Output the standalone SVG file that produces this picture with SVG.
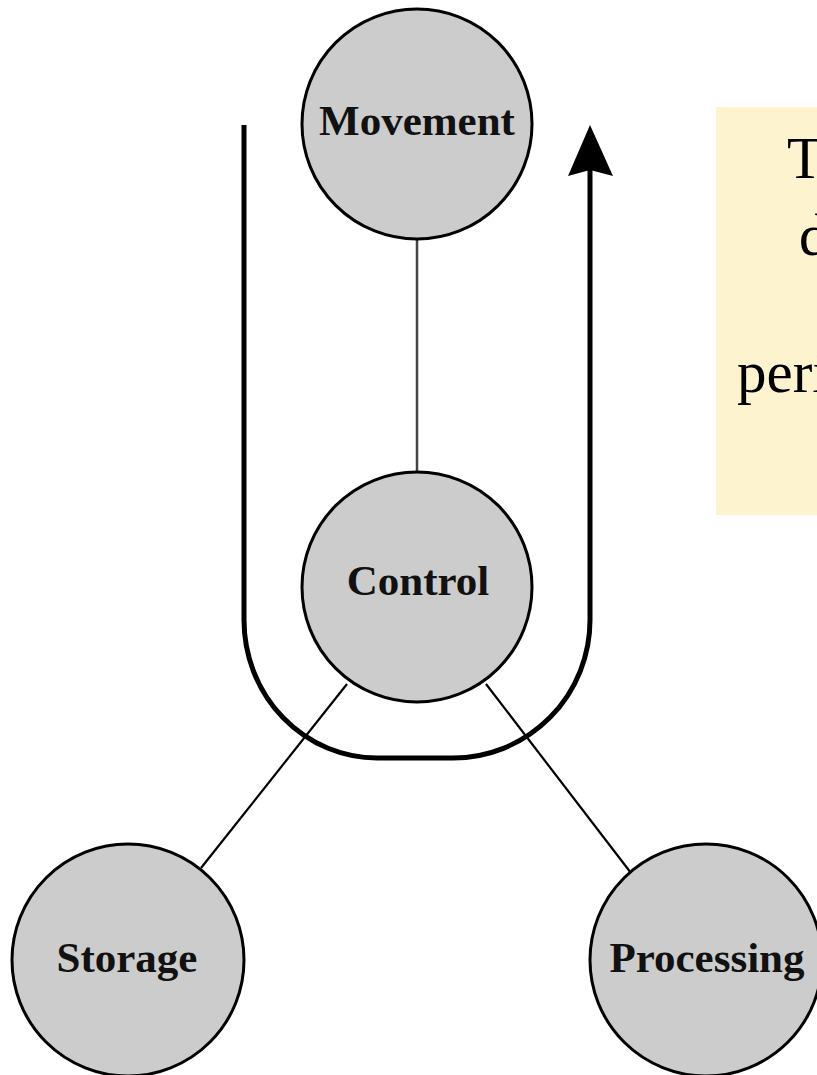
<svg xmlns="http://www.w3.org/2000/svg" width="817" height="1075" viewBox="0 0 817 1075">
<style>
.node circle{fill:#cccccc;stroke:#000;stroke-width:3}
.node text{font-family:"Liberation Serif",serif;font-weight:bold;font-size:43px;fill:#111;text-anchor:middle}
.link{stroke:#000;stroke-width:2.2;fill:none}
.flow{stroke:#000;stroke-width:5;fill:none}
.note{font-family:"Liberation Serif",serif;font-size:59px;fill:#000}
</style>
<rect x="716" y="107" width="110" height="408" fill="#fdf4cf"/>
<g id="note-text">
<text class="note" x="787" y="178">T</text>
<text class="note" x="799" y="255">d</text>
<text class="note" x="737" y="392">peri</text>
</g>
<g id="connectors">
<line class="link" x1="417" y1="240" x2="417" y2="472" stroke="#444" style="stroke:#444;stroke-width:2.5"/>
<line class="link" x1="347" y1="684" x2="201" y2="868"/>
<line class="link" x1="486" y1="684" x2="631" y2="873"/>
<path class="flow" d="M244,125 V620 A133,138 0 0 0 377,758 H453 A137,138 0 0 0 590,620 V170"/>
<polygon points="590,125 613,176 590,170 568,176" fill="#000"/>
</g>
<g id="movement" class="node"><circle cx="417" cy="124" r="115"/><text x="417" y="135">Movement</text></g>
<g id="control" class="node"><circle cx="417" cy="587" r="115"/><text x="418" y="595">Control</text></g>
<g id="storage" class="node"><circle cx="128" cy="960" r="116"/><text x="127" y="972">Storage</text></g>
<g id="processing" class="node"><circle cx="706" cy="960" r="116"/><text x="707" y="972">Processing</text></g>
</svg>
